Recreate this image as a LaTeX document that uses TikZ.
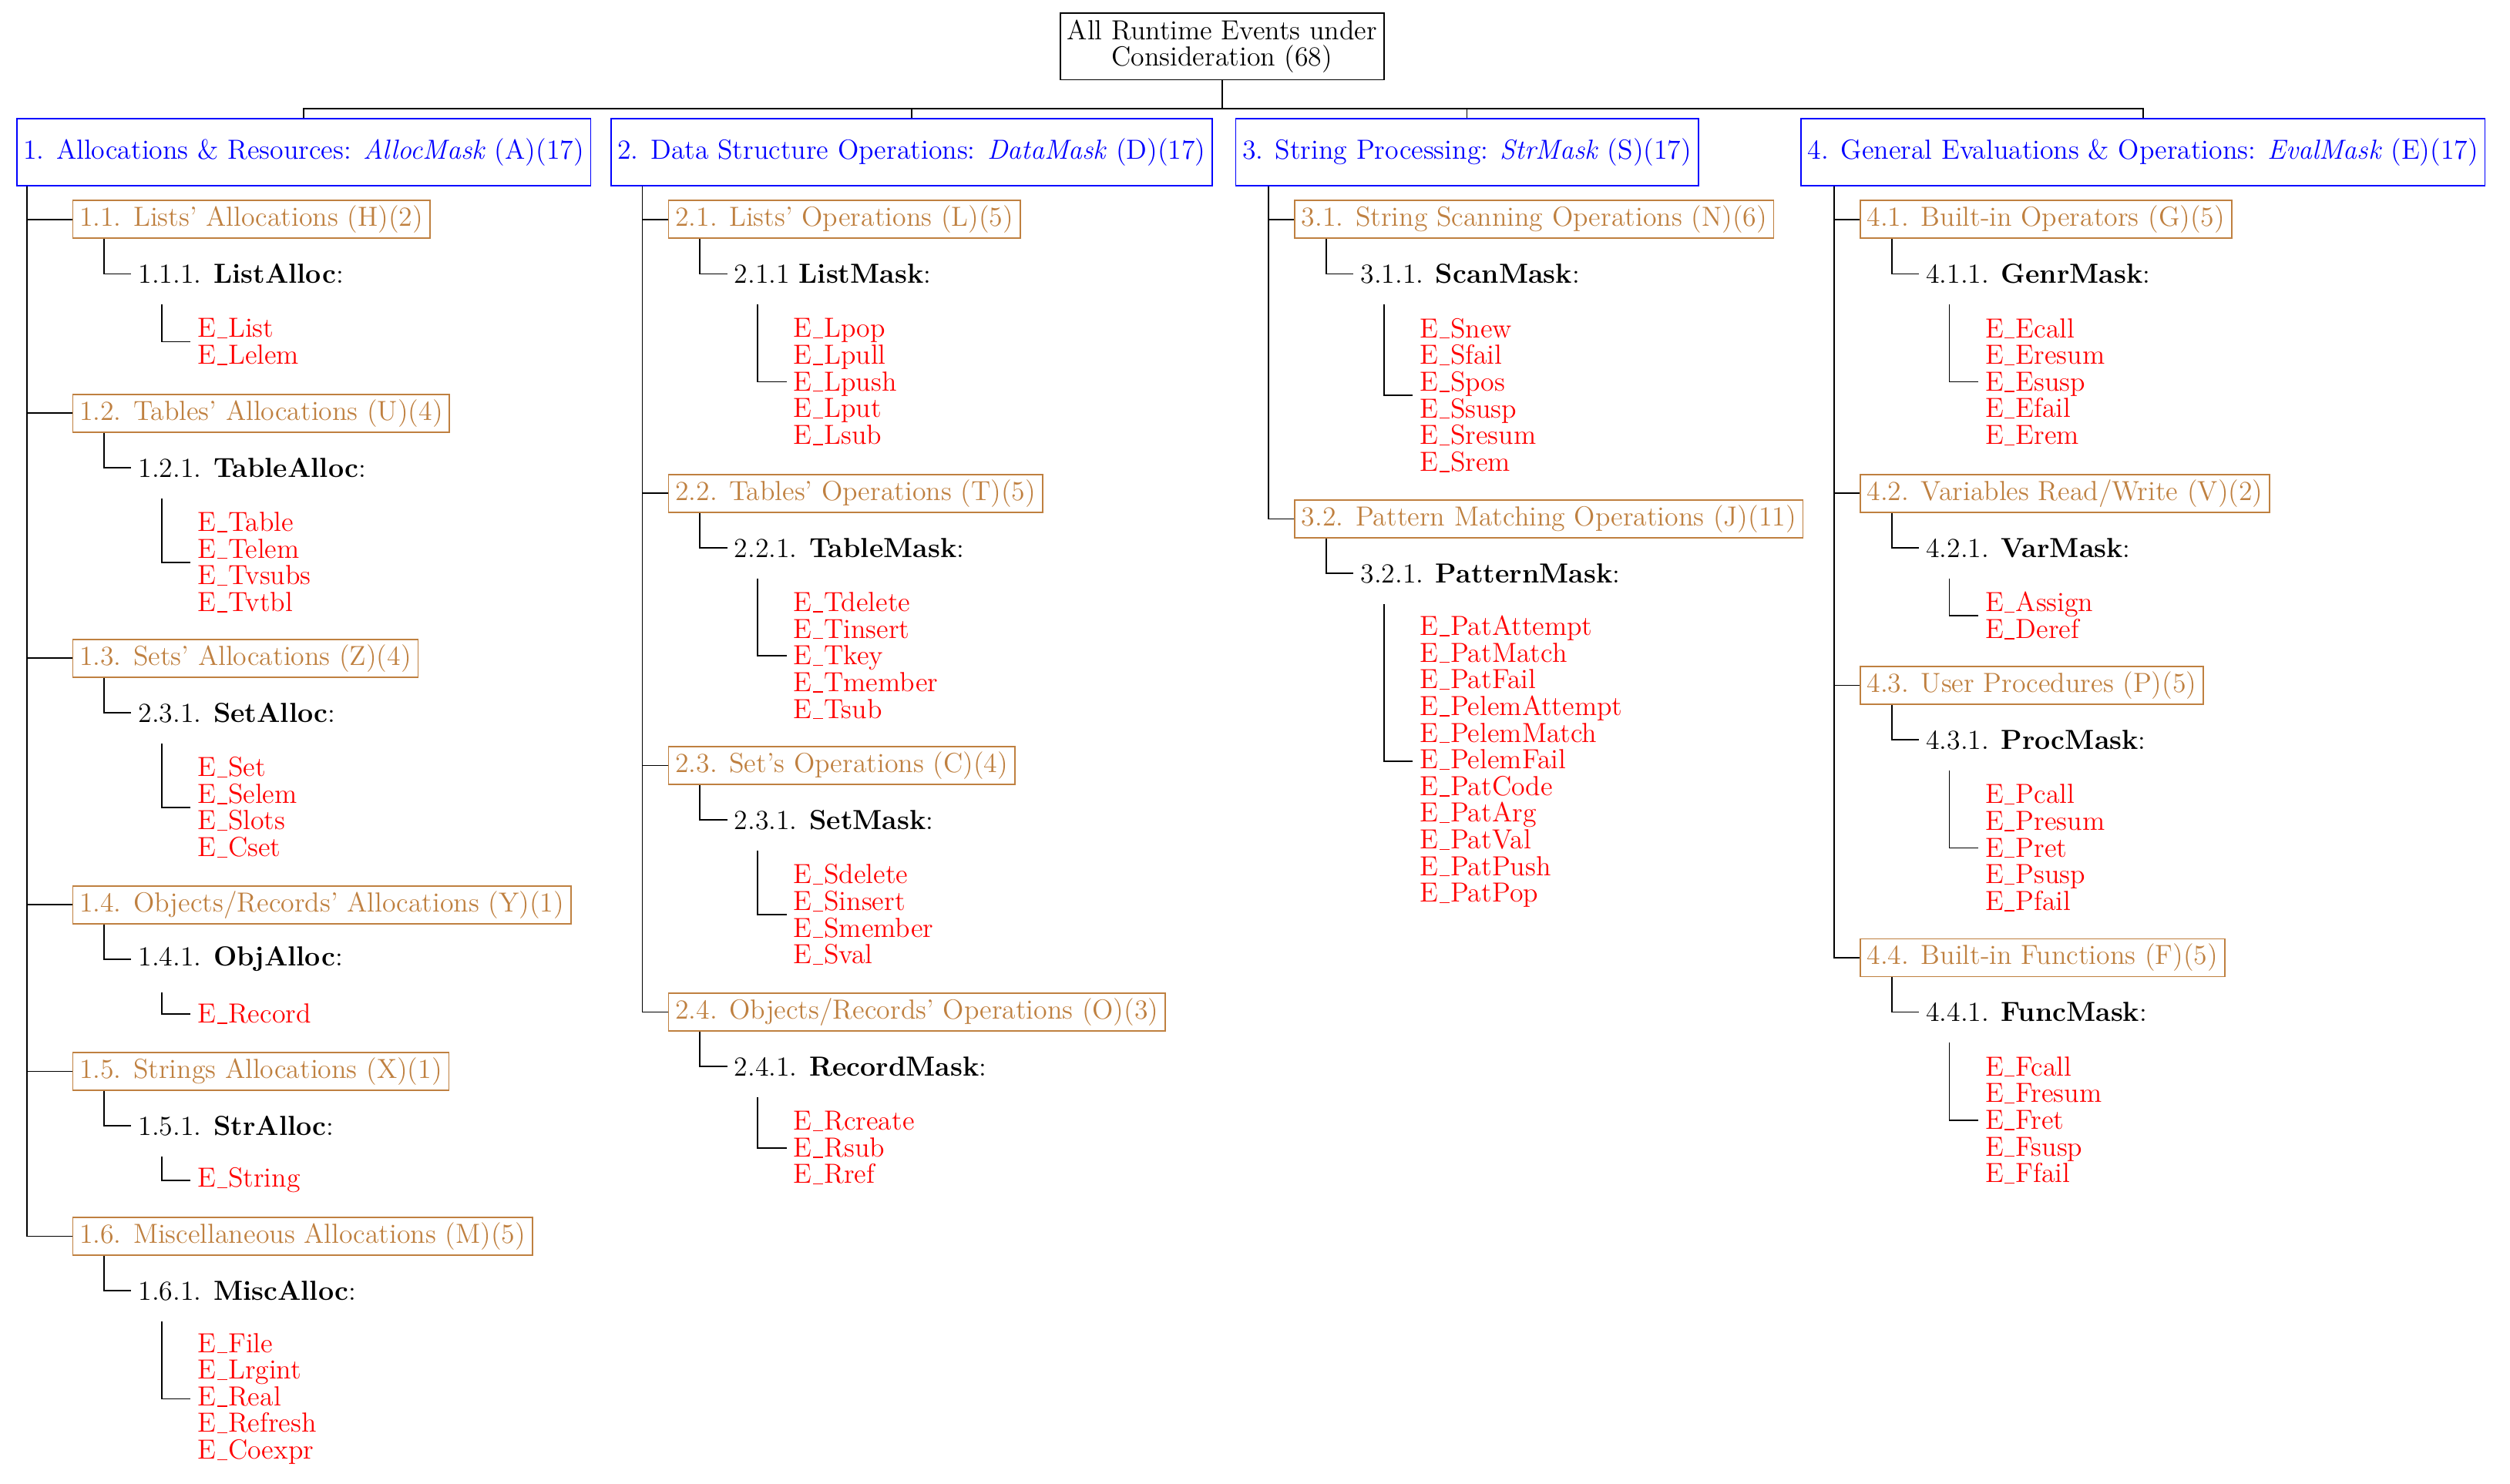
\documentclass[tikz,border=0pt]{standalone}
\usetikzlibrary{calc}
\definecolor{brn}{RGB}{191,128,64}
\newcommand\us{\kern0.04em\rule[-0.08ex]{0.36em}{0.45pt}\kern0.04em}
\begin{document}
\begin{tikzpicture}[x=0.72pt,y=-0.72pt,
  every node/.style={font=\fontsize{12.4}{12}\selectfont},
  rootbox/.style={draw,align=center,inner xsep=3pt,inner ysep=3pt,line width=0.6pt},
  l1box/.style={draw=blue,text=blue,minimum height=30pt,inner xsep=3pt,anchor=west,line width=0.6pt},
  l2box/.style={draw=brn,text=brn,minimum height=17pt,inner xsep=3pt,inner ysep=2pt,anchor=west,line width=0.6pt},
  l3node/.style={anchor=west,inner xsep=3pt,inner ysep=2pt},
  l4node/.style={anchor=west,text=red,align=left,inner xsep=3pt,inner ysep=0pt},
  link/.style={draw,line width=0.6pt}]
\useasboundingbox (0,0) rectangle (1567,926.5);
\newcommand\grp[9]{%
  \node[l2box] (c#1) at (#3,#4) {#5};
  \draw[link] (#2.south -| r#9) |- (c#1.west);
  \node[l3node] (d#1) at (#3+37,#4+34) {#6};
  \draw[link] ($(c#1.south west)+(20,0)$) |- (d#1.west);
  \pgfmathsetmacro\lc{#4+68+(#7-1)*8.35}
  \node[l4node] (e#1) at (#3+74,\lc) {#8};
  \draw[link] ($(d#1.south west)+(19,10)$) |- (e#1.west);
}
\node[rootbox] (root) at (763,29) {All Runtime Events under\\Consideration (68)};
\node[l1box] (b1) at (10,95) {1. Allocations \& Resources: \textit{AllocMask} (A)(17)};
\node[l1box] (b2) at (381,95) {2. Data Structure Operations: \textit{DataMask} (D)(17)};
\node[l1box] (b3) at (771,95) {3. String Processing: \textit{StrMask} (S)(17)};
\node[l1box] (b4) at (1124,95) {4. General Evaluations \& Operations: \textit{EvalMask} (E)(17)};
\coordinate (bar) at (0,68);
\draw[link] (root.south) -- (root.south |- bar);
\draw[link] (b1.north) -- (b1.north |- bar) -- (b4.north |- bar) -- (b4.north);
\draw[link] (b2.north) -- (b2.north |- bar);
\draw[link] (b3.north) -- (b3.north |- bar);
\coordinate (rA) at (17,0);
\coordinate (rB) at (401,0);
\coordinate (rC) at (792,0);
\coordinate (rD) at (1145,0);
% column 1
\grp{11}{b1}{45}{137}{1.1. Lists' Allocations (H)(2)}{1.1.1. \textbf{ListAlloc}:}{2}{E\us List\\E\us Lelem}{A}
\grp{12}{b1}{45}{258}{1.2. Tables' Allocations (U)(4)}{1.2.1. \textbf{TableAlloc}:}{4}{E\us Table\\E\us Telem\\E\us Tvsubs\\E\us Tvtbl}{A}
\grp{13}{b1}{45}{411}{1.3. Sets' Allocations (Z)(4)}{2.3.1. \textbf{SetAlloc}:}{4}{E\us Set\\E\us Selem\\E\us Slots\\E\us Cset}{A}
\grp{14}{b1}{45}{565}{1.4. Objects/Records' Allocations (Y)(1)}{1.4.1. \textbf{ObjAlloc}:}{1}{E\us Record}{A}
\grp{15}{b1}{45}{669}{1.5. Strings Allocations (X)(1)}{1.5.1. \textbf{StrAlloc}:}{1}{E\us String}{A}
\grp{16}{b1}{45}{772}{1.6. Miscellaneous Allocations (M)(5)}{1.6.1. \textbf{MiscAlloc}:}{5}{E\us File\\E\us Lrgint\\E\us Real\\E\us Refresh\\E\us Coexpr}{A}
% column 2
\grp{21}{b2}{417}{137}{2.1. Lists' Operations (L)(5)}{2.1.1 \textbf{ListMask}:}{5}{E\us Lpop\\E\us Lpull\\E\us Lpush\\E\us Lput\\E\us Lsub}{B}
\grp{22}{b2}{417}{308}{2.2. Tables' Operations (T)(5)}{2.2.1. \textbf{TableMask}:}{5}{E\us Tdelete\\E\us Tinsert\\E\us Tkey\\E\us Tmember\\E\us Tsub}{B}
\grp{23}{b2}{417}{478}{2.3. Set's Operations (C)(4)}{2.3.1. \textbf{SetMask}:}{4}{E\us Sdelete\\E\us Sinsert\\E\us Smember\\E\us Sval}{B}
\grp{24}{b2}{417}{632}{2.4. Objects/Records' Operations (O)(3)}{2.4.1. \textbf{RecordMask}:}{3}{E\us Rcreate\\E\us Rsub\\E\us Rref}{B}
% column 3
\grp{31}{b3}{808}{137}{3.1. String Scanning Operations (N)(6)}{3.1.1. \textbf{ScanMask}:}{6}{E\us Snew\\E\us Sfail\\E\us Spos\\E\us Ssusp\\E\us Sresum\\E\us Srem}{C}
\grp{32}{b3}{808}{324}{3.2. Pattern Matching Operations (J)(11)}{3.2.1. \textbf{PatternMask}:}{11}{E\us PatAttempt\\E\us PatMatch\\E\us PatFail\\E\us PelemAttempt\\E\us PelemMatch\\E\us PelemFail\\E\us PatCode\\E\us PatArg\\E\us PatVal\\E\us PatPush\\E\us PatPop}{C}
% column 4
\grp{41}{b4}{1161}{137}{4.1. Built-in Operators (G)(5)}{4.1.1. \textbf{GenrMask}:}{5}{E\us Ecall\\E\us Eresum\\E\us Esusp\\E\us Efail\\E\us Erem}{D}
\grp{42}{b4}{1161}{308}{4.2. Variables Read/Write (V)(2)}{4.2.1. \textbf{VarMask}:}{2}{E\us Assign\\E\us Deref}{D}
\grp{43}{b4}{1161}{428}{4.3. User Procedures (P)(5)}{4.3.1. \textbf{ProcMask}:}{5}{E\us Pcall\\E\us Presum\\E\us Pret\\E\us Psusp\\E\us Pfail}{D}
\grp{44}{b4}{1161}{598}{4.4. Built-in Functions (F)(5)}{4.4.1. \textbf{FuncMask}:}{5}{E\us Fcall\\E\us Fresum\\E\us Fret\\E\us Fsusp\\E\us Ffail}{D}
\end{tikzpicture}
\end{document}
